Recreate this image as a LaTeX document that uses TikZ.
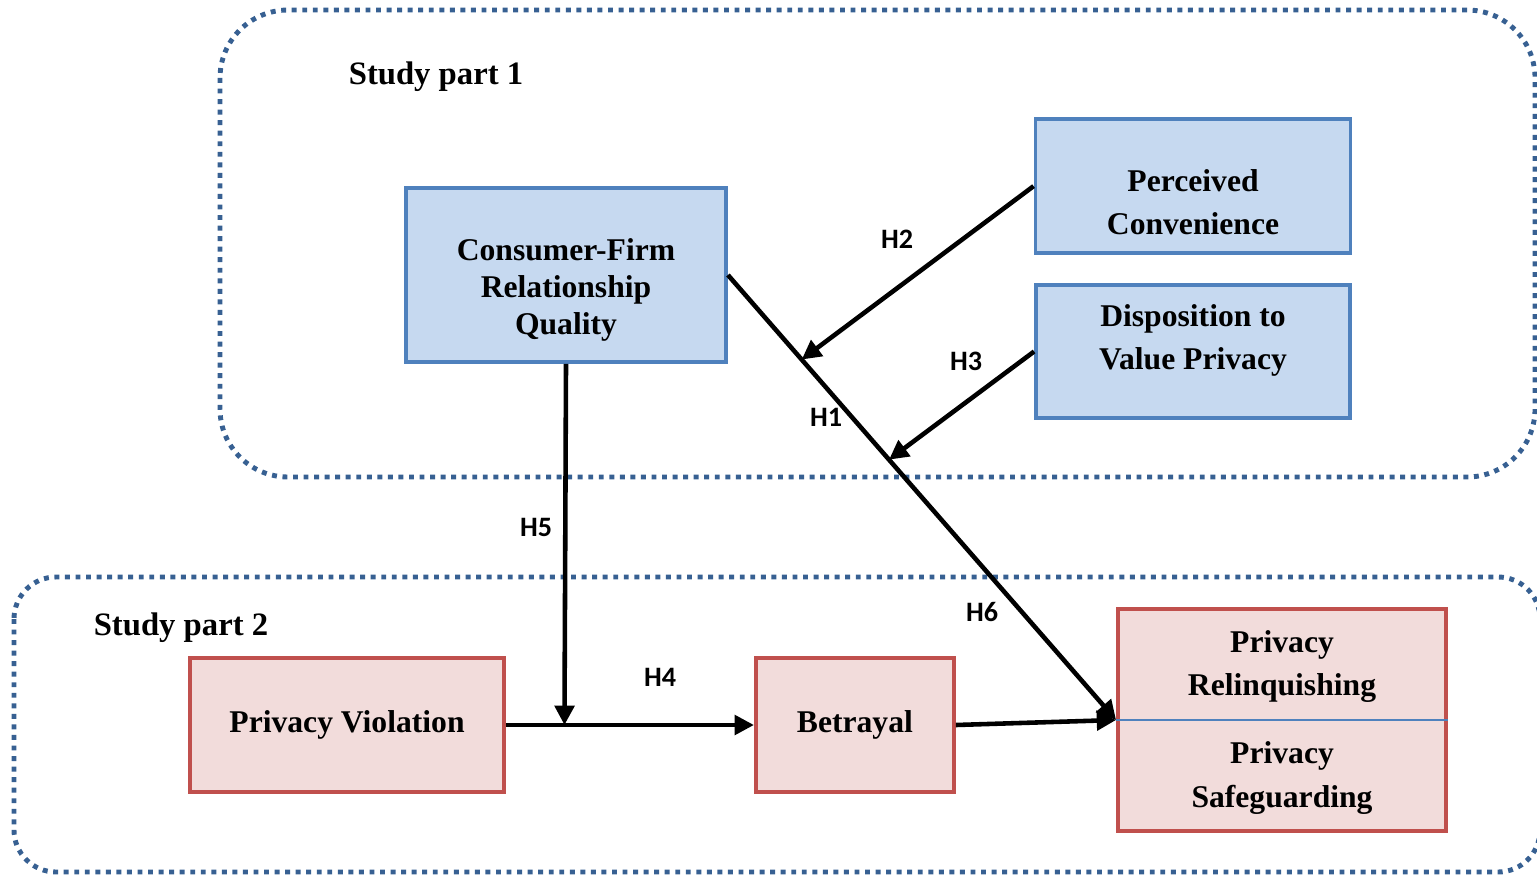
\documentclass[tikz,border=0pt]{standalone}
\usepackage{fontspec}
\setmainfont{Liberation Serif}
\newfontfamily\hfont{Carlito}
\usetikzlibrary{arrows.meta, positioning, calc}
\definecolor{myframe}{RGB}{55,96,146}
\definecolor{myblue}{RGB}{79,129,189}
\definecolor{hdrblue}{RGB}{198,217,240}
\definecolor{myred}{RGB}{192,80,77}
\definecolor{hdrred}{RGB}{242,220,219}
\tikzset{
  bluebox/.style={rectangle, draw=myblue, fill=hdrblue, line width=1.1pt},
  redbox/.style={rectangle, draw=myred, fill=hdrred, align=center,
    font=\fontsize{9}{12.2}\selectfont\bfseries, line width=1.1pt},
  boxtext/.style={align=center, font=\fontsize{9}{12.4}\selectfont\bfseries},
  hlabel/.style={font=\hfont\fontsize{8}{9.6}\selectfont\bfseries},
  partlabel/.style={font=\fontsize{9.3}{11}\selectfont\bfseries},
  studyframe/.style={draw=myframe, line width=1.4pt,
    dash pattern=on 1.4pt off 1.6pt},
  arrow/.style={-{Triangle[length=5.5pt, width=5.5pt]}, line width=1.3pt, color=black},
  divline/.style={draw=myblue, line width=0.5pt}
}

\begin{document}
\begin{tikzpicture}
  \useasboundingbox (0,0) rectangle (15.37,-8.75);

  % study frames
  \draw[studyframe, rounded corners=0.68cm] (2.20,-0.10) rectangle (15.35,-4.77);
  \draw[studyframe, rounded corners=0.42cm] (0.14,-5.77) rectangle (15.40,-8.72);
  \node[partlabel] (part1) at (4.36,-0.77) {Study part 1};
  \node[partlabel] (part2) at (1.81,-6.28) {Study part 2};

  % study part 1
  \node[bluebox, minimum width=3.2cm, minimum height=1.74cm] (cfrq) at (5.66,-2.75) {};
  \node[boxtext, font=\fontsize{9}{10.6}\selectfont\bfseries] (cfrqtext)
    at ([yshift=-0.15cm]cfrq.center) {Consumer-Firm\\Relationship\\Quality};
  \node[bluebox, minimum width=3.14cm, minimum height=1.33cm] (dispo) at (11.93,-3.515) {};
  \node[boxtext] (dispotext) at ([yshift=0.11cm]dispo.center) {Disposition to\\Value Privacy};
  \node[bluebox, minimum width=3.15cm, minimum height=1.34cm, above=0.28cm of dispo] (conv) {};
  \node[boxtext] (convtext) at ([yshift=-0.16cm]conv.center) {Perceived\\Convenience};

  % study part 2
  \node[redbox, minimum width=3.14cm, minimum height=1.34cm] (viol) at (3.47,-7.25)
    {Privacy Violation};
  \node[redbox, minimum width=1.98cm, minimum height=1.34cm, right=2.48cm of viol] (betr)
    {Betrayal};
  \node[redbox, minimum width=3.28cm, minimum height=2.22cm] (priv) at (12.82,-7.20) {};
  \draw[divline] (priv.west) -- (priv.east);
  \node[boxtext] (relq) at ([yshift=0.535cm]priv.center) {Privacy\\Relinquishing};
  \node[boxtext] (safe) at ([yshift=-0.58cm]priv.center) {Privacy\\Safeguarding};

  % paths
  \coordinate (h2end) at ($(cfrq.east)!0.19!(priv.west)$);
  \coordinate (h3end) at ($(cfrq.east)!0.415!(priv.west)$);
  \coordinate (h5end) at ($(viol.east)!0.236!(betr.west)$);
  \draw[arrow] (cfrq.east) -- (priv.west);
  \draw[arrow] (conv.west) -- (h2end);
  \draw[arrow] (dispo.west) -- (h3end);
  \draw[arrow] (cfrq.south) -- (h5end);
  \draw[arrow] (viol.east) -- (betr.west);
  \draw[arrow] (betr.east) -- (priv.west);

  \node[hlabel] (h1) at (8.26,-4.17) {H1};
  \node[hlabel] (h2) at (8.97,-2.39) {H2};
  \node[hlabel] (h3) at (9.66,-3.61) {H3};
  \node[hlabel] (h4) at (6.60,-6.77) {H4};
  \node[hlabel] (h5) at (5.36,-5.27) {H5};
  \node[hlabel] (h6) at (9.82,-6.12) {H6};
\end{tikzpicture}
\end{document}
